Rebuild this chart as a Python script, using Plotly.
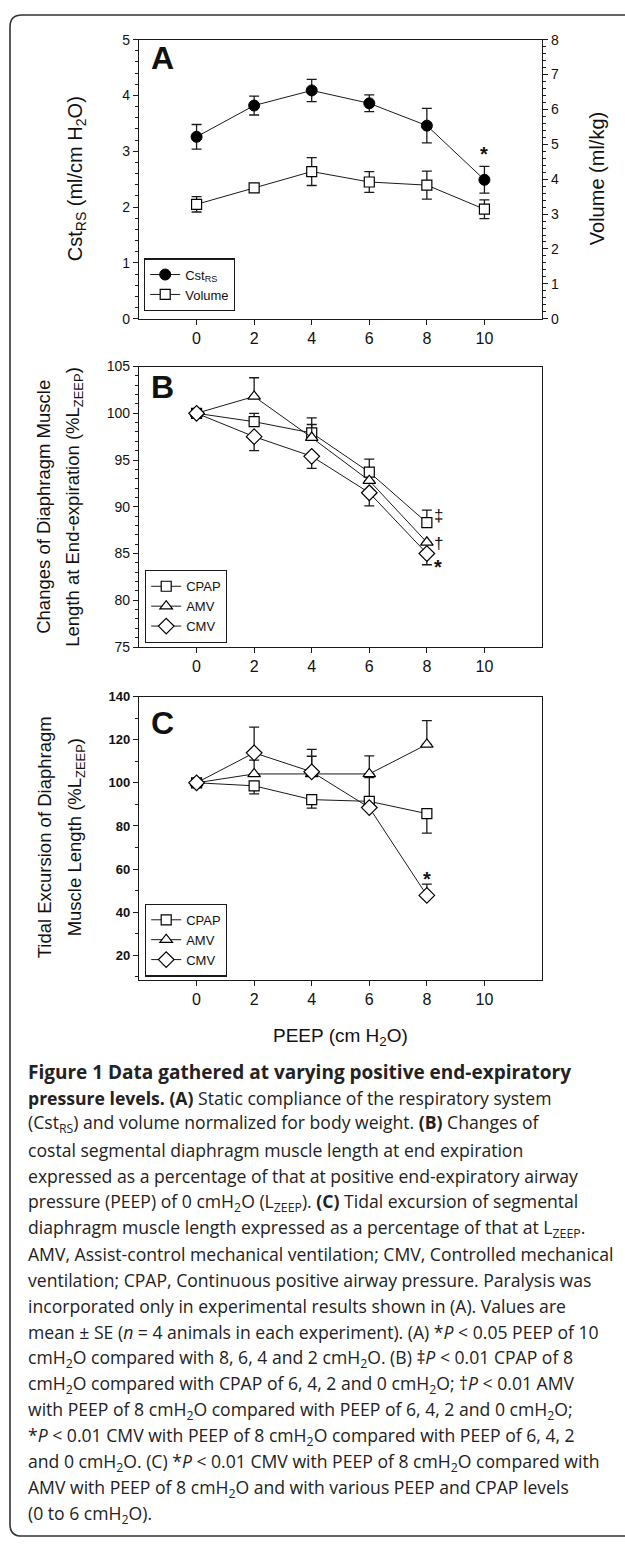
import plotly.graph_objects as go

W, H = 625, 1546

# ---------------- data ----------------
peep_a = [0, 2, 4, 6, 8, 10]
cst_rs = [3.26, 3.82, 4.09, 3.86, 3.46, 2.49]
cst_rs_se = [0.22, 0.17, 0.20, 0.15, 0.31, 0.24]
volume = [3.28, 3.75, 4.22, 3.92, 3.83, 3.14]
volume_se = [0.22, 0.12, 0.40, 0.30, 0.40, 0.27]

peep_bc = [0, 2, 4, 6, 8]
b_cpap = [100.0, 99.1, 97.9, 93.7, 88.3]
b_cpap_up = [0, 0.9, 1.6, 1.4, 1.35]
b_amv = [100.0, 101.8, 97.4, 92.8, 86.2]
b_amv_up = [0, 2.0, 1.4, 0, 0]
b_cmv = [100.0, 97.5, 95.4, 91.5, 85.0]
b_cmv_down = [0, 1.5, 1.3, 1.4, 1.2]

c_cpap = [100.0, 98.6, 92.2, 91.4, 85.7]
c_cpap_up = [0, 0, 0, 11.0, 0]
c_cpap_down = [0, 3.7, 3.9, 0, 9.0]
c_amv = [100.0, 104.1, 104.1, 104.1, 117.8]
c_amv_up = [0, 6.4, 8.2, 8.4, 11.0]
c_cmv = [100.0, 113.9, 105.1, 88.5, 47.8]
c_cmv_up = [0, 11.9, 10.4, 0, 5.2]

x_ticks = [0, 2, 4, 6, 8, 10]

# ---------------- helpers ----------------
def px(x):
    return x / W

def py(y):
    return 1 - y / H

FONT = "Liberation Sans"
LC = "#1a1a1a"

fig = go.Figure()

def err(up, down, w=5):
    return dict(type="data", symmetric=False, array=up, arrayminus=down,
                width=w, thickness=1.3, color=LC, visible=True)

zeros5 = [0] * 5

# Panel A
fig.add_trace(go.Scatter(x=peep_a, y=cst_rs, mode="lines+markers", name="Cst<sub>RS</sub>",
                         line=dict(color=LC, width=1),
                         marker=dict(symbol="circle", size=11, color="black", line=dict(color="black", width=1)),
                         error_y=err(cst_rs_se, cst_rs_se), xaxis="x", yaxis="y", legend="legend"))
fig.add_trace(go.Scatter(x=peep_a, y=volume, mode="lines+markers", name="Volume",
                         line=dict(color=LC, width=1),
                         marker=dict(symbol="square", size=10, color="white", line=dict(color="black", width=1.2)),
                         error_y=err(volume_se, volume_se), xaxis="x", yaxis="y2", legend="legend"))

# Panel B
fig.add_trace(go.Scatter(x=peep_bc, y=b_cpap, mode="lines+markers", name="CPAP",
                         line=dict(color=LC, width=1),
                         marker=dict(symbol="square", size=10, color="white", line=dict(color="black", width=1.2)),
                         error_y=err(b_cpap_up, zeros5), xaxis="x2", yaxis="y3", legend="legend2"))
fig.add_trace(go.Scatter(x=peep_bc, y=b_amv, mode="lines+markers", name="AMV",
                         line=dict(color=LC, width=1),
                         marker=dict(symbol="triangle-up", size=11, color="white", line=dict(color="black", width=1.2)),
                         error_y=err(b_amv_up, zeros5), xaxis="x2", yaxis="y3", legend="legend2"))
fig.add_trace(go.Scatter(x=peep_bc, y=b_cmv, mode="lines+markers", name="CMV",
                         line=dict(color=LC, width=1),
                         marker=dict(symbol="diamond", size=12, color="white", line=dict(color="black", width=1.2)),
                         error_y=err(zeros5, b_cmv_down), xaxis="x2", yaxis="y3", legend="legend2"))

# Panel C
fig.add_trace(go.Scatter(x=peep_bc, y=c_cpap, mode="lines+markers", name="CPAP",
                         line=dict(color=LC, width=1),
                         marker=dict(symbol="square", size=10, color="white", line=dict(color="black", width=1.2)),
                         error_y=err(c_cpap_up, c_cpap_down), xaxis="x3", yaxis="y4", legend="legend3"))
fig.add_trace(go.Scatter(x=peep_bc, y=c_amv, mode="lines+markers", name="AMV",
                         line=dict(color=LC, width=1),
                         marker=dict(symbol="triangle-up", size=11, color="white", line=dict(color="black", width=1.2)),
                         error_y=err(c_amv_up, zeros5), xaxis="x3", yaxis="y4", legend="legend3"))
fig.add_trace(go.Scatter(x=peep_bc, y=c_cmv, mode="lines+markers", name="CMV",
                         line=dict(color=LC, width=1),
                         marker=dict(symbol="diamond", size=12, color="white", line=dict(color="black", width=1.2)),
                         error_y=err(c_cmv_up, zeros5), xaxis="x3", yaxis="y4", legend="legend3"))

xdom = [px(139), px(542)]
domA = [py(314), py(32)]
domB = [py(645.7), py(362.3)]
domC = [py(981.7), py(695.7)]

def xax(anchor, mirror=True):
    return dict(domain=xdom, anchor=anchor, range=[-2, 12], tickvals=x_ticks,
                ticks="outside", ticklen=5, tickwidth=1, tickcolor=LC,
                showline=True, linecolor=LC, linewidth=1.2, mirror=mirror,
                showgrid=False, zeroline=False,
                tickfont=dict(family=FONT, size=16, color="#111"))

def yax(anchor, dom, rng, dtick, minor, size=14, weight="normal", mirror=True):
    return dict(domain=dom, anchor=anchor, range=rng, dtick=dtick,
                ticks="outside", ticklen=5, tickwidth=1, tickcolor=LC,
                minor=dict(dtick=minor, ticks="outside", ticklen=3, tickcolor=LC, showgrid=False),
                showline=True, linecolor=LC, linewidth=1.2, mirror=mirror,
                showgrid=False, zeroline=False,
                tickfont=dict(family=FONT, size=size, color="#111", weight=weight))

ya2 = yax("x", domA, [0, 8], 1, 0.2, size=14, mirror=False)
ya2.update(overlaying="y", side="right")

legend_common = dict(bgcolor="white", bordercolor=LC, borderwidth=1.2,
                     font=dict(family=FONT, size=13, color="#111"),
                     xanchor="left", yanchor="top", tracegroupgap=0, itemwidth=30)

fig.update_layout(
    width=W, height=H,
    margin=dict(l=0, r=0, t=0, b=0),
    paper_bgcolor="white", plot_bgcolor="white",
    xaxis=xax("y"),
    yaxis=yax("x", domA, [0, 5], 1, 0.2, size=14, mirror=False),
    yaxis2=ya2,
    xaxis2=xax("y3"),
    yaxis3=yax("x2", domB, [75, 105], 5, 1, size=14),
    xaxis3=xax("y4"),
    yaxis4=yax("x3", domC, [8.8, 140], 20, 10, size=13, weight="bold"),
    legend=dict(x=px(144), y=py(253), **legend_common),
    legend2=dict(x=px(145), y=py(568), **legend_common),
    legend3=dict(x=px(145), y=py(905), **legend_common),
    showlegend=True,
)

annotations = []

def ann(text, x, y, size, angle=0, xanchor="center", weight="normal", family=FONT, color="#111", ref="paper"):
    d = dict(text=text, x=x, y=y, showarrow=False, textangle=angle,
             xanchor=xanchor, yanchor="middle",
             font=dict(family=family, size=size, color=color, weight=weight))
    if ref == "paper":
        d.update(xref="paper", yref="paper")
    else:
        d.update(xref=ref[0], yref=ref[1])
    annotations.append(d)

# panel letters
ann("<b>A</b>", px(163), py(51), 32)
ann("<b>B</b>", px(163), py(383), 32)
ann("<b>C</b>", px(163), py(722), 32)

# axis titles
ann("Cst<sub>RS</sub> (ml/cm H<sub>2</sub>O)", px(76), py(173), 20, angle=-90)
ann("Volume (ml/kg)", px(597), py(173), 20, angle=-90)
ann("Changes of Diaphragm Muscle", px(44), py(504), 18.5, angle=-90)
ann("Length at End-expiration (%L<sub>ZEEP</sub>)", px(74), py(504), 18.5, angle=-90)
ann("Tidal Excursion of Diaphragm", px(44), py(838), 18.5, angle=-90)
ann("Muscle Length (%L<sub>ZEEP</sub>)", px(76), py(838), 18.5, angle=-90)
ann("PEEP (cm H<sub>2</sub>O)", px(340.5), py(1040), 19)

# significance marks
ann("<b>*</b>", 10, 2.95, 20, ref=("x", "y"))
ann("‡", 8.4, 89.05, 17, ref=("x2", "y3"))
ann("†", 8.4, 86.1, 17, ref=("x2", "y3"))
ann("<b>*</b>", 8.4, 83.6, 20, ref=("x2", "y3"))
ann("<b>*</b>", 8.0, 55.5, 20, ref=("x3", "y4"))

caption = [
    "<b>Figure 1 Data gathered at varying positive end-expiratory</b>",
    "<b>pressure levels. (A)</b> Static compliance of the respiratory system",
    "(Cst<sub>RS</sub>) and volume normalized for body weight. <b>(B)</b> Changes of",
    "costal segmental diaphragm muscle length at end expiration",
    "expressed as a percentage of that at positive end-expiratory airway",
    "pressure (PEEP) of 0 cmH<sub>2</sub>O (L<sub>ZEEP</sub>). <b>(C)</b> Tidal excursion of segmental",
    "diaphragm muscle length expressed as a percentage of that at L<sub>ZEEP</sub>.",
    "AMV, Assist-control mechanical ventilation; CMV, Controlled mechanical",
    "ventilation; CPAP, Continuous positive airway pressure. Paralysis was",
    "incorporated only in experimental results shown in (A). Values are",
    "mean ± SE (<i>n</i> = 4 animals in each experiment). (A) *<i>P</i> &lt; 0.05 PEEP of 10",
    "cmH<sub>2</sub>O compared with 8, 6, 4 and 2 cmH<sub>2</sub>O. (B) ‡<i>P</i> &lt; 0.01 CPAP of 8",
    "cmH<sub>2</sub>O compared with CPAP of 6, 4, 2 and 0 cmH<sub>2</sub>O; †<i>P</i> &lt; 0.01 AMV",
    "with PEEP of 8 cmH<sub>2</sub>O compared with PEEP of 6, 4, 2 and 0 cmH<sub>2</sub>O;",
    "*<i>P</i> &lt; 0.01 CMV with PEEP of 8 cmH<sub>2</sub>O compared with PEEP of 6, 4, 2",
    "and 0 cmH<sub>2</sub>O. (C) *<i>P</i> &lt; 0.01 CMV with PEEP of 8 cmH<sub>2</sub>O compared with",
    "AMV with PEEP of 8 cmH<sub>2</sub>O and with various PEEP and CPAP levels",
    "(0 to 6 cmH<sub>2</sub>O).",
]
for i, line in enumerate(caption):
    size = 19 if i == 0 else 17.6
    ann(line, px(26), py(1075 + i * 26.3), size, xanchor="left", family="Open Sans", color="#222")

fig.update_layout(annotations=annotations)

# outer rounded frame (right side runs off the page)
L, T, B, R, r = 10, 7, 1544, 700, 12
path = (f"M {px(R)},{py(T)} L {px(L + r)},{py(T)} Q {px(L)},{py(T)} {px(L)},{py(T + r)} "
        f"L {px(L)},{py(B - r)} Q {px(L)},{py(B)} {px(L + r)},{py(B)} L {px(R)},{py(B)}")
fig.add_shape(type="path", path=path, xref="paper", yref="paper",
              line=dict(color="#333", width=1.6), layer="below")

fig.write_html("out.html", config={"displayModeBar": False},
               post_script="document.body.style.margin='0';")
